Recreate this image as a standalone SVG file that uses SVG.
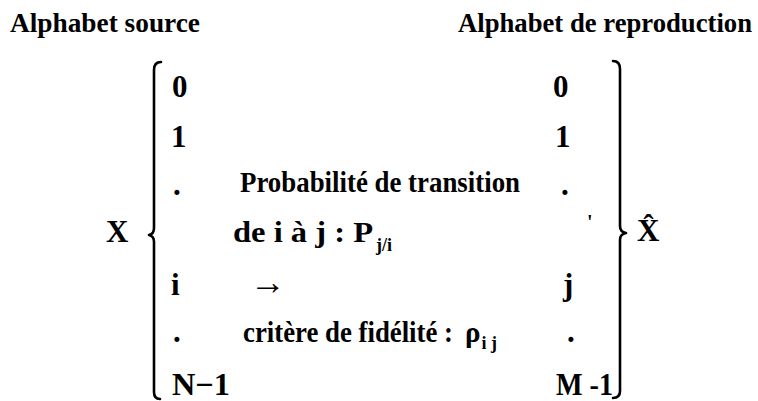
<svg xmlns="http://www.w3.org/2000/svg" width="758" height="401" viewBox="0 0 758 401" font-family="'Liberation Serif', 'DejaVu Serif', serif" font-weight="bold">
<style>
text{fill:#000}
.t{font-size:27px}
.c{font-size:31px}
.m{font-size:29px}
.s{font-size:18px}
.br{fill:none;stroke:#000;stroke-width:2.6;stroke-linecap:round;stroke-linejoin:round}
</style>
<rect width="758" height="401" fill="#fff"/>
<g id="titles">
<text class="t" x="10" y="32" textLength="190" lengthAdjust="spacingAndGlyphs">Alphabet source</text>
<text class="t" x="458" y="32" textLength="294" lengthAdjust="spacingAndGlyphs">Alphabet de reproduction</text>
</g>
<g id="braces">
<path class="br" d="M161,62 Q154,62 154,70 L154,228 Q154,234 149,235 Q154,236 154,242 L154,392 Q154,399 160,399"/>
<path class="br" d="M613,61 Q620,61 620,69 L620,226 Q620,232 626,233 Q620,234 620,240 L620,391 Q620,398 613,398"/>
</g>
<g id="source">
<text class="c" x="106" y="242">X</text>
<text class="c" x="172" y="97">0</text>
<text class="c" x="171" y="147">1</text>
<text class="c" x="173" y="195">.</text>
<text class="c" x="171" y="295">i</text>
<text class="c" x="173" y="342">.</text>
<text class="c" x="172" y="395" textLength="58" lengthAdjust="spacingAndGlyphs">N−1</text>
</g>
<g id="reproduction">
<text class="c" x="637" y="241">X̂</text>
<text class="c" x="553" y="97">0</text>
<text class="c" x="555" y="147">1</text>
<text class="c" x="561" y="195">.</text>
<text x="587" y="229" style="font-size:20px">'</text>
<text class="c" x="563" y="295">j</text>
<text class="c" x="567" y="342">.</text>
<text class="c" x="556" y="395" textLength="57" lengthAdjust="spacingAndGlyphs">M -1</text>
</g>
<g id="labels">
<text class="m" x="240" y="192" textLength="280" lengthAdjust="spacingAndGlyphs">Probabilité de transition</text>
<text class="m" x="233" y="242" textLength="140" lengthAdjust="spacingAndGlyphs">de i à j : P</text>
<text class="s" x="376" y="251">j/i</text>
<text x="250" y="294" style="font-size:36px">→</text>
<text class="m" x="243" y="342" textLength="210" lengthAdjust="spacingAndGlyphs">critère de fidélité :</text>
<text class="m" x="465" y="342">ρ<tspan class="s" dx="1" dy="7">i j</tspan></text>
</g>
</svg>
